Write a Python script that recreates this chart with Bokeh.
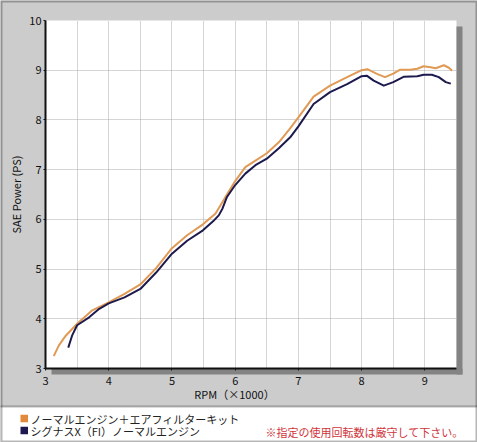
import math
from bokeh.plotting import figure
from bokeh.models import BoxAnnotation, Label, FixedTicker
from bokeh.embed import file_html
from bokeh.resources import INLINE

# ---- data ----
rpm_kit = [3.13, 3.21, 3.32, 3.50, 3.74, 4.00, 4.25, 4.50, 4.75, 5.00, 5.24, 5.49,
           5.69, 5.87, 6.00, 6.16, 6.32, 6.50, 6.69, 6.85, 7.00, 7.24, 7.50, 7.77,
           8.00, 8.09, 8.25, 8.37, 8.50, 8.61, 8.77, 8.88, 8.98, 9.09, 9.17, 9.30,
           9.38, 9.43]
ps_kit = [3.25, 3.46, 3.66, 3.90, 4.17, 4.33, 4.50, 4.69, 5.02, 5.42, 5.68, 5.90,
          6.12, 6.50, 6.77, 7.05, 7.18, 7.33, 7.55, 7.80, 8.05, 8.47, 8.69, 8.86,
          9.00, 9.02, 8.92, 8.86, 8.93, 9.01, 9.01, 9.03, 9.08, 9.06, 9.04, 9.10,
          9.05, 8.99]
rpm_std = [3.36, 3.42, 3.50, 3.69, 3.85, 4.00, 4.25, 4.50, 4.75, 5.00, 5.24, 5.49,
           5.65, 5.74, 5.80, 5.87, 6.00, 6.16, 6.32, 6.50, 6.69, 6.87, 7.00, 7.24,
           7.50, 7.77, 8.00, 8.08, 8.19, 8.35, 8.50, 8.67, 8.88, 8.98, 9.11, 9.22,
           9.33, 9.41]
ps_std = [3.42, 3.66, 3.87, 4.03, 4.20, 4.31, 4.43, 4.60, 4.93, 5.31, 5.57, 5.78,
          5.96, 6.08, 6.22, 6.45, 6.69, 6.92, 7.09, 7.22, 7.43, 7.65, 7.87, 8.32,
          8.56, 8.72, 8.88, 8.89, 8.79, 8.69, 8.76, 8.87, 8.88, 8.91, 8.91, 8.86,
          8.76, 8.73]
x_ticks = [3, 4, 5, 6, 7, 8, 9]
y_ticks = [3, 4, 5, 6, 7, 8, 9, 10]
series_names = ["ノーマルエンジン＋エアフィルターキット", "シグナスX（FI）ノーマルエンジン"]
note_text = "※指定の使用回転数は厳守して下さい。"
x_title = "RPM（×1000）"
y_title = "SAE Power (PS)"

# ---- styles / layout ----
line_colors = ["#e09a55", "#1d1a4d"]
box_colors = ["#e3893a", "#1d1850"]
FONT = "Noto Sans CJK JP"
W, H = 477, 442
X0, X1, Y0, Y1 = 3.0, 9.5, 3.0, 10.0
PL, PR, PT, PB = 45, 456, 20, 368      # pixel box of the white plotting area
SX = (PR - PL) / (X1 - X0)
SY = (PB - PT) / (Y1 - Y0)


def dx(px):
    return X0 + (px - PL) / SX


def dy(py):
    return Y1 - (py - PT) / SY


p = figure(width=W, height=H, x_range=(dx(0), dx(W)), y_range=(dy(H), dy(0)),
           output_backend="svg", toolbar_location=None,
           min_border_left=0, min_border_right=0, min_border_top=0, min_border_bottom=0)
p.border_fill_color = "#cccccc"
p.background_fill_color = "#cccccc"
p.outline_line_color = None

# white plotting area and its drop shadow
p.add_layout(BoxAnnotation(left=X0, right=X1, bottom=Y0, top=Y1, fill_color="white", fill_alpha=1,
                           line_color=None, level="image"))
sh = 6
p.add_layout(BoxAnnotation(left=X1, right=dx(PR + sh), top=dy(PT + sh), bottom=dy(PB + sh),
                           fill_color="#838383", fill_alpha=1, line_color=None, level="image"))
p.add_layout(BoxAnnotation(left=dx(PL + sh), right=dx(PR + sh), top=Y0, bottom=dy(PB + sh),
                           fill_color="#838383", fill_alpha=1, line_color=None, level="image"))
# white legend panel
p.add_layout(BoxAnnotation(left=dx(-5), right=dx(W + 5), top=dy(406), bottom=dy(H + 5),
                           fill_color="white", fill_alpha=1, line_color="#111111", line_width=2,
                           level="image"))

for ax in (p.xaxis[0], p.yaxis[0]):
    ax.axis_line_color = "#111111"
    ax.axis_line_width = 2
    ax.major_tick_line_color = "#111111"
    ax.major_tick_out = 2
    ax.major_tick_in = 0
    ax.minor_tick_line_color = None
    ax.major_label_text_font = FONT
    ax.major_label_text_font_size = "11px"
    ax.major_label_text_color = "#111111"
p.xaxis.ticker = FixedTicker(ticks=x_ticks)
p.yaxis.ticker = FixedTicker(ticks=y_ticks)
p.xaxis.fixed_location = Y0
p.yaxis.fixed_location = X0
p.xaxis.bounds = (X0, X1)
p.yaxis.bounds = (Y0, Y1)
p.xaxis.major_label_standoff = 6
p.yaxis.major_label_standoff = 2

grid_x = [X0 + 0.5 * i for i in range(1, int((X1 - X0) / 0.5))]
grid_y = [Y0 + i for i in range(1, int(Y1 - Y0))]
p.xgrid.ticker = FixedTicker(ticks=grid_x)
p.ygrid.ticker = FixedTicker(ticks=grid_y)
p.xgrid.cross_bounds = (Y0, Y1)
p.ygrid.cross_bounds = (X0, X1)
for g in (p.xgrid[0], p.ygrid[0]):
    g.grid_line_color = "#aaaaaa"
    g.grid_line_dash = "1 1"
    g.grid_line_width = 1

# curves
p.line(rpm_kit, ps_kit, line_color=line_colors[0], line_width=2, line_join="round")
p.line(rpm_std, ps_std, line_color=line_colors[1], line_width=2, line_join="round")

# axis titles
p.add_layout(Label(x=dx(234), y=dy(393), text=x_title, text_font=FONT, text_font_size="11px",
                   text_color="#111111", text_align="center", text_baseline="middle"))
p.add_layout(Label(x=dx(15), y=dy(194), text=y_title, text_font=FONT, text_font_size="11px",
                   text_color="#111111", text_align="center", text_baseline="middle",
                   angle=math.pi / 2))

# legend entries
for i, (name, c) in enumerate(zip(series_names, box_colors)):
    cy = 418 + 12 * i
    p.add_layout(BoxAnnotation(left=dx(20), right=dx(27.5), top=dy(cy - 3.7), bottom=dy(cy + 3.7),
                               fill_color=c, fill_alpha=1, line_color=None))
    p.add_layout(Label(x=dx(30), y=dy(cy), text=name, text_font=FONT, text_font_size="11px",
                       text_color="#222222", text_align="left", text_baseline="middle"))

p.add_layout(Label(x=dx(265), y=dy(431), text=note_text, text_font=FONT, text_font_size="11px",
                   text_color="#d0343a", text_align="left", text_baseline="middle"))

# outer black border
p.add_layout(BoxAnnotation(left=dx(0), right=dx(W), top=dy(0), bottom=dy(H),
                           fill_alpha=0, line_color="#111111", line_width=4, level="overlay"))

open("out.html", "w").write(file_html(p, INLINE))
